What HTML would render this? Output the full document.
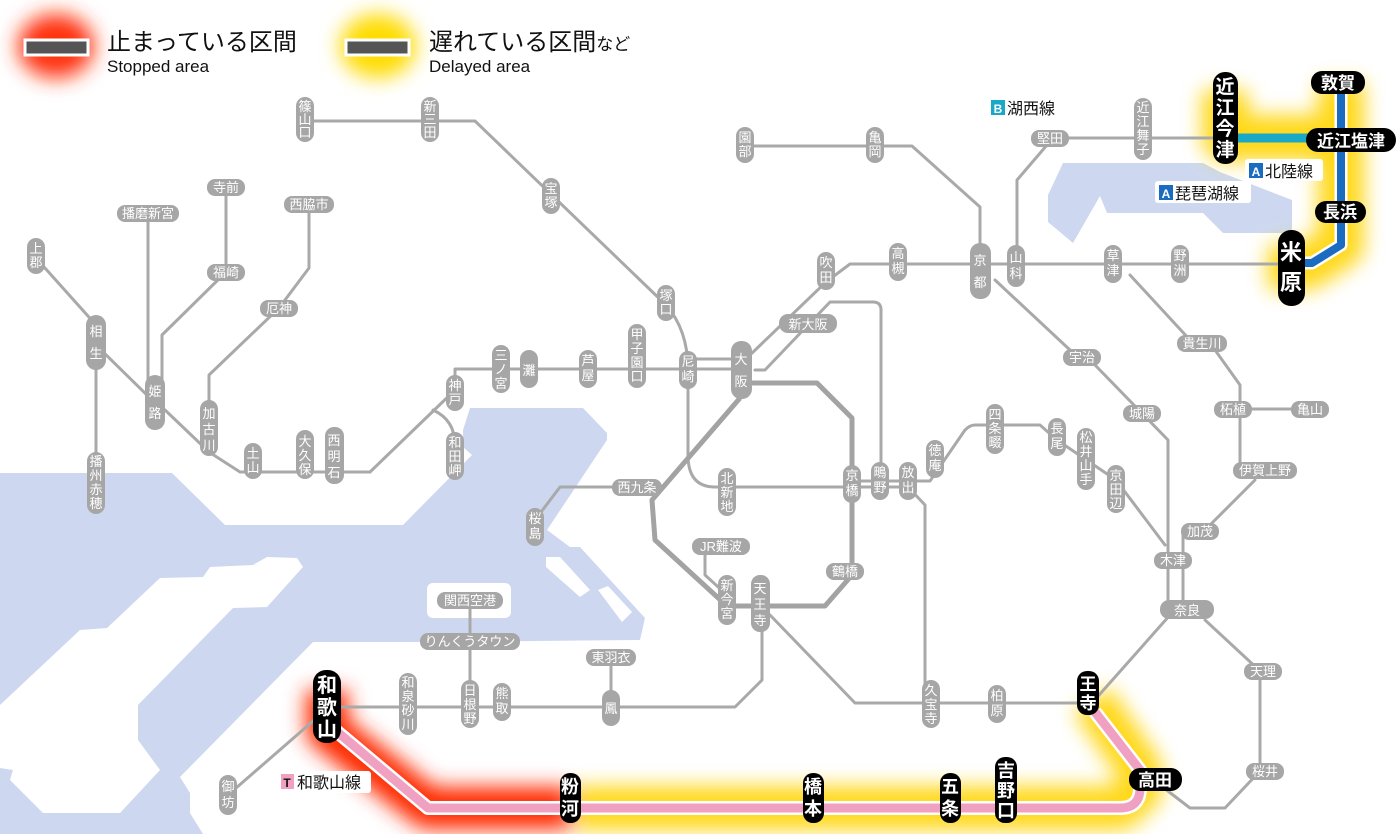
<!DOCTYPE html>
<html><head><meta charset="utf-8"><style>
html,body{margin:0;padding:0;background:#fff;}
svg{display:block;font-family:"Liberation Sans","Noto Sans CJK JP",sans-serif;}
.l{fill:none;stroke:#a9a9a9;stroke-width:3;stroke-linejoin:round;stroke-linecap:round;}
.lt{fill:none;stroke:#a3a3a3;stroke-width:5;stroke-linejoin:round;}
.p{fill:#a6a6a6;}
.t{fill:#fff;font-size:13px;text-anchor:middle;}
.b{fill:#000;}
.bt{fill:#fff;text-anchor:middle;font-weight:bold;}
</style></head><body>
<svg width="1400" height="834" viewBox="0 0 1400 834" xmlns="http://www.w3.org/2000/svg">
<defs>
<filter id="g" x="-40%" y="-40%" width="180%" height="180%"><feGaussianBlur stdDeviation="10"/></filter>
</defs>
<!-- water -->
<g fill="#cdd8f0">
<polygon points="0,473 172,473 225,525 403,525 472,455 463,447 463,430 470,408 583,408 607,433 607,440 547,530 570,547 580,547 645,618 640,640 420,642 313,642 180,777 190,793 190,813 203,834 0,834"/>
<polygon points="1063,163 1203,163 1220,172 1292,200 1292,233 1223,233 1203,213 1107,213 1100,196 1073,243 1048,222 1048,195"/>
</g>
<g fill="#fff">
<polygon points="0,705 80,630 107,628 160,578 203,577 210,567 253,565 267,557 297,558 303,567 267,607 233,608 138,705 138,740 160,770 120,813 43,813 10,780 13,770 0,768"/>
<rect x="427" y="583" width="84" height="35" rx="6"/>
<polygon points="546,557 560,557 590,590 580,597 546,567"/>
<polygon points="598,590 608,586 632,612 622,622"/>
<polygon points="560,530 590,505 593,500 585,525 568,540"/>
</g>

<!-- legend -->
<ellipse cx="56" cy="46" rx="38" ry="32" fill="#ff3010" filter="url(#g)"/>
<rect x="25" y="40" width="63" height="15" fill="#555" stroke="#fff" stroke-width="3"/>
<text x="107" y="50" font-size="24" fill="#111">止まっている区間</text>
<text x="107" y="72" font-size="17" fill="#111">Stopped area</text>
<ellipse cx="378" cy="46" rx="38" ry="32" fill="#ffdc00" filter="url(#g)"/>
<rect x="346" y="40" width="63" height="15" fill="#555" stroke="#fff" stroke-width="3"/>
<text x="429" y="50" font-size="24" fill="#111">遅れている区間<tspan font-size="17">など</tspan></text>
<text x="429" y="72" font-size="17" fill="#111">Delayed area</text>

<!-- glows -->
<path d="M1225 90 V138 H1341 M1341 82 V245 L1310 265 H1291 M1291 245 V290" fill="none" stroke="#ffd400" stroke-width="46" stroke-linejoin="round" filter="url(#g)" opacity="0.9"/>
<path d="M575 808 H1120 L1140 790 V770 L1092 700" fill="none" stroke="#ffd400" stroke-width="44" stroke-linejoin="round" filter="url(#g)" opacity="0.9"/>
<path d="M327 690 V730 L428 808 H570" fill="none" stroke="#ff2a00" stroke-width="42" stroke-linejoin="round" filter="url(#g)"/>

<!-- gray lines -->
<g class="l">
<path d="M305 121 H475 L666 305 Q688 330 688 370 V455 Q688 487 715 487 H908"/>
<path d="M688 359 H741 M688 369 H741"/>
<path d="M370 472 L455 390 V369 H741"/>
<path d="M433 410 Q455 420 455 445"/>
<path d="M36 258 L96 325 M96 345 L152 400 M96 360 V500 M165 410 L209 452 L240 472 H370"/>
<path d="M148 213 V380 M226 187 V272 L162 335 V380 M309 204 V268 L279 308 L209 375 V430"/>
<path d="M750 355 L826 282 L850 264 H980 M980 264 H1290"/>
<path d="M755 370 L765 370 L830 302 H873 Q881 302 881 310 V465"/>
<path d="M745 146 H912 L980 207 V245"/>
<path d="M1047 145 L1017 180 V250 M1050 138 H1215"/>
<path d="M995 280 L1070 350 M1095 365 L1168 440 V609"/>
<path d="M1130 275 L1190 340 M1215 350 L1240 385 V470 M1233 409 H1310 M1255 480 L1205 530 M1183 531 V609"/>
<path d="M908 481 H930 L965 430 Q970 425 975 425 H1040 L1057 440 L1116 480 L1165 545"/>
<path d="M852 481 H908 M880 487 H908 M908 487 L925 505 V700"/>
<path d="M585 487 L560 487 L535 520 M612 487 H585"/>
<path d="M705 546 V575 L727 595"/>
<path d="M762 620 V680 L735 707 H340 M611 657 V700 M470 600 V690"/>
<path d="M770 615 L855 703 H1092 L1170 615 M1205 620 L1260 671 V771 L1225 808 H1190 L1160 785"/>
<path d="M320 715 L228 795"/>
</g>
<g class="lt">
<path d="M752 383 H817 L852 418 V575 L825 606 H727 L655 540 L652 500 L740 398"/>
</g>

<!-- Hokuriku lines -->
<path d="M1235 138 H1340" stroke="#1aa8c8" stroke-width="9" fill="none"/>
<path d="M1341 85 V245 L1312 263 H1295" stroke="#fff" stroke-width="13" fill="none" stroke-linejoin="round"/>
<path d="M1341 85 V245 L1312 263 H1295" stroke="#1a6cc0" stroke-width="8" fill="none" stroke-linejoin="round"/>
<!-- Wakayama line -->
<path d="M335 730 L428 808 H1120 Q1140 808 1140 788 V770 L1095 712" stroke="#fff" stroke-width="14" fill="none" stroke-linejoin="round"/>
<path d="M335 730 L428 808 H1120 Q1140 808 1140 788 V770 L1095 712" stroke="#f0a0c0" stroke-width="9" fill="none" stroke-linejoin="round"/>

<!-- gray vertical pills -->
<g>
<rect class="p" x="296" y="97" width="18" height="45" rx="9"/><text class="t" x="305"><tspan x="305" y="111">篠</tspan><tspan x="305" y="124">山</tspan><tspan x="305" y="137">口</tspan></text>
<rect class="p" x="421" y="97" width="18" height="45" rx="9"/><text class="t"><tspan x="430" y="111">新</tspan><tspan x="430" y="124">三</tspan><tspan x="430" y="137">田</tspan></text>
<rect class="p" x="542" y="178" width="18" height="36" rx="9"/><text class="t"><tspan x="551" y="193">宝</tspan><tspan x="551" y="207">塚</tspan></text>
<rect class="p" x="657" y="285" width="18" height="36" rx="9"/><text class="t"><tspan x="666" y="300">塚</tspan><tspan x="666" y="314">口</tspan></text>
<rect class="p" x="736" y="127" width="18" height="36" rx="9"/><text class="t"><tspan x="745" y="142">園</tspan><tspan x="745" y="156">部</tspan></text>
<rect class="p" x="866" y="127" width="18" height="36" rx="9"/><text class="t"><tspan x="875" y="142">亀</tspan><tspan x="875" y="156">岡</tspan></text>
<rect class="p" x="1134" y="98" width="18" height="62" rx="9"/><text class="t"><tspan x="1143" y="112">近</tspan><tspan x="1143" y="126">江</tspan><tspan x="1143" y="140">舞</tspan><tspan x="1143" y="154">子</tspan></text>
<rect class="p" x="27" y="238" width="18" height="36" rx="9"/><text class="t"><tspan x="36" y="253">上</tspan><tspan x="36" y="267">郡</tspan></text>
<rect class="p" x="86" y="315" width="20" height="55" rx="10"/><text class="t" font-size="17"><tspan x="96" y="336">相</tspan><tspan x="96" y="358">生</tspan></text>
<rect class="p" x="145" y="375" width="20" height="55" rx="10"/><text class="t" font-size="17"><tspan x="155" y="396">姫</tspan><tspan x="155" y="418">路</tspan></text>
<rect class="p" x="200" y="400" width="18" height="56" rx="9"/><text class="t" font-size="15"><tspan x="209" y="418">加</tspan><tspan x="209" y="434">古</tspan><tspan x="209" y="450">川</tspan></text>
<rect class="p" x="87" y="452" width="18" height="62" rx="9"/><text class="t"><tspan x="96" y="466">播</tspan><tspan x="96" y="480">州</tspan><tspan x="96" y="494">赤</tspan><tspan x="96" y="508">穂</tspan></text>
<rect class="p" x="244" y="443" width="18" height="36" rx="9"/><text class="t"><tspan x="253" y="458">土</tspan><tspan x="253" y="472">山</tspan></text>
<rect class="p" x="296" y="430" width="18" height="49" rx="9"/><text class="t"><tspan x="305" y="446">大</tspan><tspan x="305" y="460">久</tspan><tspan x="305" y="474">保</tspan></text>
<rect class="p" x="325" y="427" width="19" height="57" rx="9"/><text class="t" font-size="15"><tspan x="334" y="445">西</tspan><tspan x="334" y="461">明</tspan><tspan x="334" y="477">石</tspan></text>
<rect class="p" x="446" y="375" width="18" height="36" rx="9"/><text class="t"><tspan x="455" y="390">神</tspan><tspan x="455" y="404">戸</tspan></text>
<rect class="p" x="446" y="432" width="18" height="48" rx="9"/><text class="t"><tspan x="455" y="447">和</tspan><tspan x="455" y="461">田</tspan><tspan x="455" y="475">岬</tspan></text>
<rect class="p" x="492" y="345" width="18" height="48" rx="9"/><text class="t"><tspan x="501" y="360">三</tspan><tspan x="501" y="374">ノ</tspan><tspan x="501" y="388">宮</tspan></text>
<rect class="p" x="520" y="350" width="18" height="38" rx="9"/><text class="t" font-size="15"><tspan x="529" y="375">灘</tspan></text>
<rect class="p" x="579" y="350" width="18" height="38" rx="9"/><text class="t"><tspan x="588" y="365">芦</tspan><tspan x="588" y="380">屋</tspan></text>
<rect class="p" x="628" y="324" width="18" height="64" rx="9"/><text class="t"><tspan x="637" y="339">甲</tspan><tspan x="637" y="353">子</tspan><tspan x="637" y="367">園</tspan><tspan x="637" y="381">口</tspan></text>
<rect class="p" x="679" y="351" width="18" height="38" rx="9"/><text class="t"><tspan x="688" y="366">尼</tspan><tspan x="688" y="381">崎</tspan></text>
<rect class="p" x="731" y="341" width="21" height="58" rx="10"/><text class="t" font-size="18"><tspan x="741" y="364">大</tspan><tspan x="741" y="386">阪</tspan></text>
<rect class="p" x="817" y="252" width="18" height="38" rx="9"/><text class="t"><tspan x="826" y="267">吹</tspan><tspan x="826" y="282">田</tspan></text>
<rect class="p" x="889" y="243" width="18" height="38" rx="9"/><text class="t"><tspan x="898" y="258">高</tspan><tspan x="898" y="273">槻</tspan></text>
<rect class="p" x="970" y="243" width="21" height="56" rx="10"/><text class="t" font-size="17"><tspan x="980" y="265">京</tspan><tspan x="980" y="287">都</tspan></text>
<rect class="p" x="1007" y="245" width="18" height="42" rx="9"/><text class="t"><tspan x="1016" y="262">山</tspan><tspan x="1016" y="278">科</tspan></text>
<rect class="p" x="1104" y="245" width="18" height="38" rx="9"/><text class="t"><tspan x="1113" y="260">草</tspan><tspan x="1113" y="275">津</tspan></text>
<rect class="p" x="1171" y="245" width="18" height="38" rx="9"/><text class="t"><tspan x="1180" y="260">野</tspan><tspan x="1180" y="275">洲</tspan></text>
<rect class="p" x="718" y="468" width="18" height="48" rx="9"/><text class="t"><tspan x="727" y="483">北</tspan><tspan x="727" y="497">新</tspan><tspan x="727" y="511">地</tspan></text>
<rect class="p" x="843" y="465" width="18" height="38" rx="9"/><text class="t"><tspan x="852" y="480">京</tspan><tspan x="852" y="495">橋</tspan></text>
<rect class="p" x="871" y="462" width="18" height="38" rx="9"/><text class="t"><tspan x="880" y="477">鴫</tspan><tspan x="880" y="492">野</tspan></text>
<rect class="p" x="899" y="462" width="18" height="38" rx="9"/><text class="t"><tspan x="908" y="477">放</tspan><tspan x="908" y="492">出</tspan></text>
<rect class="p" x="926" y="440" width="18" height="38" rx="9"/><text class="t"><tspan x="935" y="455">徳</tspan><tspan x="935" y="470">庵</tspan></text>
<rect class="p" x="986" y="404" width="18" height="50" rx="9"/><text class="t"><tspan x="995" y="419">四</tspan><tspan x="995" y="433">条</tspan><tspan x="995" y="447">畷</tspan></text>
<rect class="p" x="1048" y="418" width="18" height="38" rx="9"/><text class="t"><tspan x="1057" y="433">長</tspan><tspan x="1057" y="448">尾</tspan></text>
<rect class="p" x="1077" y="428" width="18" height="62" rx="9"/><text class="t"><tspan x="1086" y="442">松</tspan><tspan x="1086" y="456">井</tspan><tspan x="1086" y="470">山</tspan><tspan x="1086" y="484">手</tspan></text>
<rect class="p" x="1107" y="465" width="18" height="48" rx="9"/><text class="t"><tspan x="1116" y="480">京</tspan><tspan x="1116" y="494">田</tspan><tspan x="1116" y="508">辺</tspan></text>
<rect class="p" x="526" y="508" width="18" height="38" rx="9"/><text class="t"><tspan x="535" y="523">桜</tspan><tspan x="535" y="538">島</tspan></text>
<rect class="p" x="718" y="575" width="18" height="50" rx="9"/><text class="t"><tspan x="727" y="590">新</tspan><tspan x="727" y="604">今</tspan><tspan x="727" y="618">宮</tspan></text>
<rect class="p" x="751" y="575" width="19" height="57" rx="9"/><text class="t" font-size="15"><tspan x="760" y="593">天</tspan><tspan x="760" y="609">王</tspan><tspan x="760" y="625">寺</tspan></text>
<rect class="p" x="922" y="680" width="18" height="48" rx="9"/><text class="t"><tspan x="931" y="695">久</tspan><tspan x="931" y="709">宝</tspan><tspan x="931" y="723">寺</tspan></text>
<rect class="p" x="988" y="685" width="18" height="38" rx="9"/><text class="t"><tspan x="997" y="700">柏</tspan><tspan x="997" y="715">原</tspan></text>
<rect class="p" x="399" y="673" width="18" height="62" rx="9"/><text class="t"><tspan x="408" y="687">和</tspan><tspan x="408" y="701">泉</tspan><tspan x="408" y="715">砂</tspan><tspan x="408" y="729">川</tspan></text>
<rect class="p" x="461" y="680" width="18" height="48" rx="9"/><text class="t"><tspan x="470" y="695">日</tspan><tspan x="470" y="709">根</tspan><tspan x="470" y="723">野</tspan></text>
<rect class="p" x="493" y="683" width="18" height="38" rx="9"/><text class="t"><tspan x="502" y="698">熊</tspan><tspan x="502" y="713">取</tspan></text>
<rect class="p" x="602" y="690" width="18" height="36" rx="9"/><text class="t"><tspan x="611" y="713">鳳</tspan></text>
<rect class="p" x="219" y="775" width="18" height="40" rx="9"/><text class="t"><tspan x="228" y="791">御</tspan><tspan x="228" y="807">坊</tspan></text>
</g>

<!-- gray horizontal pills -->
<g>
<rect class="p" x="117" y="205" width="62" height="17" rx="8"/><text class="t" x="148" y="218">播磨新宮</text>
<rect class="p" x="207" y="179" width="38" height="17" rx="8"/><text class="t" x="226" y="192">寺前</text>
<rect class="p" x="207" y="264" width="38" height="17" rx="8"/><text class="t" x="226" y="277">福崎</text>
<rect class="p" x="284" y="196" width="50" height="17" rx="8"/><text class="t" x="309" y="209">西脇市</text>
<rect class="p" x="260" y="300" width="38" height="17" rx="8"/><text class="t" x="279" y="313">厄神</text>
<rect class="p" x="779" y="314" width="58" height="19" rx="9"/><text class="t" x="808" y="329" font-size="15">新大阪</text>
<rect class="p" x="1031" y="130" width="38" height="17" rx="8"/><text class="t" x="1050" y="143">堅田</text>
<rect class="p" x="1063" y="349" width="38" height="17" rx="8"/><text class="t" x="1082" y="362">宇治</text>
<rect class="p" x="1123" y="405" width="38" height="17" rx="8"/><text class="t" x="1142" y="418">城陽</text>
<rect class="p" x="1177" y="335" width="50" height="17" rx="8"/><text class="t" x="1202" y="348">貴生川</text>
<rect class="p" x="1214" y="401" width="38" height="17" rx="8"/><text class="t" x="1233" y="414">柘植</text>
<rect class="p" x="1291" y="401" width="38" height="17" rx="8"/><text class="t" x="1310" y="414">亀山</text>
<rect class="p" x="1233" y="462" width="64" height="17" rx="8"/><text class="t" x="1265" y="475">伊賀上野</text>
<rect class="p" x="1181" y="523" width="38" height="17" rx="8"/><text class="t" x="1200" y="536">加茂</text>
<rect class="p" x="1154" y="552" width="38" height="17" rx="8"/><text class="t" x="1173" y="565">木津</text>
<rect class="p" x="1160" y="600" width="54" height="19" rx="9"/><text class="t" x="1187" y="615" font-size="15">奈良</text>
<rect class="p" x="1244" y="663" width="38" height="17" rx="8"/><text class="t" x="1263" y="676">天理</text>
<rect class="p" x="1246" y="763" width="38" height="17" rx="8"/><text class="t" x="1265" y="776">桜井</text>
<rect class="p" x="612" y="479" width="50" height="17" rx="8"/><text class="t" x="637" y="492">西九条</text>
<rect class="p" x="692" y="538" width="58" height="17" rx="8"/><text class="t" x="721" y="551">JR難波</text>
<rect class="p" x="826" y="563" width="38" height="17" rx="8"/><text class="t" x="845" y="576">鶴橋</text>
<rect class="p" x="437" y="592" width="66" height="17" rx="8"/><text class="t" x="470" y="605">関西空港</text>
<rect class="p" x="420" y="633" width="100" height="17" rx="8"/><text class="t" x="470" y="646">りんくうタウン</text>
<rect class="p" x="586" y="649" width="50" height="17" rx="8"/><text class="t" x="611" y="662">東羽衣</text>
</g>

<!-- black pills -->
<g>
<rect class="b" x="1213" y="72" width="25" height="92" rx="12"/><text class="bt" font-size="19"><tspan x="1225" y="93">近</tspan><tspan x="1225" y="114">江</tspan><tspan x="1225" y="135">今</tspan><tspan x="1225" y="156">津</tspan></text>
<rect class="b" x="1278" y="230" width="27" height="76" rx="13"/><text class="bt" font-size="22"><tspan x="1291" y="260">米</tspan><tspan x="1291" y="290">原</tspan></text>
<rect class="b" x="313" y="670" width="28" height="73" rx="13"/><text class="bt" font-size="20"><tspan x="327" y="692">和</tspan><tspan x="327" y="714">歌</tspan><tspan x="327" y="736">山</tspan></text>
<rect class="b" x="560" y="773" width="21" height="50" rx="10"/><text class="bt" font-size="18"><tspan x="570" y="793">粉</tspan><tspan x="570" y="815">河</tspan></text>
<rect class="b" x="803" y="773" width="21" height="50" rx="10"/><text class="bt" font-size="18"><tspan x="813" y="793">橋</tspan><tspan x="813" y="815">本</tspan></text>
<rect class="b" x="940" y="773" width="21" height="50" rx="10"/><text class="bt" font-size="18"><tspan x="950" y="793">五</tspan><tspan x="950" y="815">条</tspan></text>
<rect class="b" x="995" y="757" width="22" height="66" rx="10"/><text class="bt" font-size="18"><tspan x="1006" y="777">吉</tspan><tspan x="1006" y="797">野</tspan><tspan x="1006" y="817">口</tspan></text>
<rect class="b" x="1077" y="671" width="22" height="44" rx="10"/><text class="bt" font-size="17"><tspan x="1088" y="690">王</tspan><tspan x="1088" y="709">寺</tspan></text>
<rect class="b" x="1311" y="71" width="54" height="23" rx="11"/><text class="bt" x="1338" y="89" font-size="17">敦賀</text>
<rect class="b" x="1306" y="128" width="90" height="24" rx="12"/><text class="bt" x="1351" y="147" font-size="17">近江塩津</text>
<rect class="b" x="1315" y="201" width="51" height="22" rx="11"/><text class="bt" x="1340" y="218" font-size="17">長浜</text>
<rect class="b" x="1129" y="768" width="53" height="23" rx="11"/><text class="bt" x="1155" y="786" font-size="17">高田</text>
</g>

<!-- line labels -->
<g font-size="16" fill="#111">
<rect x="987" y="97" width="80" height="22" rx="3" fill="#fff"/>
<rect x="991" y="100" width="14" height="15" fill="#1aa8c8"/><text x="998" y="113" font-size="12" fill="#fff" text-anchor="middle" font-weight="bold">B</text>
<text x="1007" y="114">湖西線</text>
<rect x="1245" y="159" width="78" height="22" rx="3" fill="#fff"/>
<rect x="1249" y="163" width="14" height="15" fill="#1a6cc0"/><text x="1256" y="176" font-size="12" fill="#fff" text-anchor="middle" font-weight="bold">A</text>
<text x="1265" y="177">北陸線</text>
<rect x="1155" y="181" width="96" height="22" rx="3" fill="#fff"/>
<rect x="1159" y="185" width="14" height="15" fill="#1a6cc0"/><text x="1166" y="198" font-size="12" fill="#fff" text-anchor="middle" font-weight="bold">A</text>
<text x="1175" y="199">琵琶湖線</text>
<rect x="277" y="771" width="94" height="22" rx="3" fill="#fff"/>
<rect x="281" y="774" width="13" height="15" fill="#f0a0c0"/><text x="287" y="787" font-size="12" fill="#111" text-anchor="middle" font-weight="bold">T</text>
<text x="297" y="788">和歌山線</text>
</g>
</svg>
</body></html>
